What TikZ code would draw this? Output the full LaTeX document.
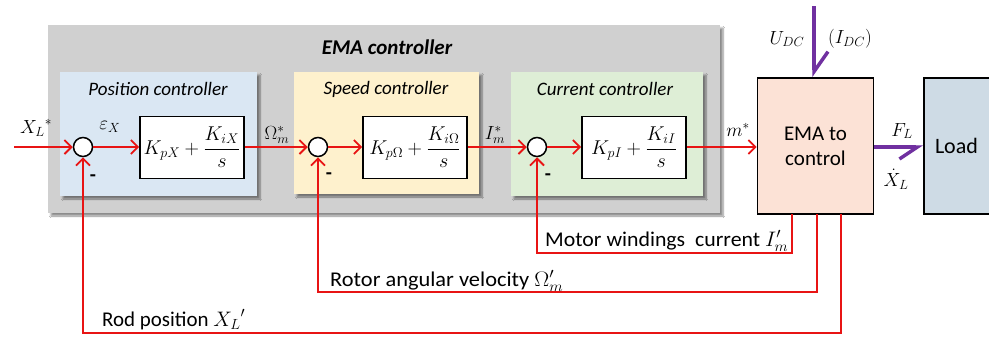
\documentclass[tikz,border=0pt]{standalone}
\usepackage{fix-cm}
\usepackage{amsmath}
\usepackage{graphicx}
\usepackage{fontspec}
\setmainfont{Carlito}
\usetikzlibrary{arrows.meta,shadows.blur,calc}
\definecolor{emagray}{RGB}{208,208,208}
\definecolor{posblue}{RGB}{218,231,243}
\definecolor{spdyel}{RGB}{254,241,205}
\definecolor{curgrn}{RGB}{222,238,214}
\definecolor{emasal}{RGB}{252,226,214}
\definecolor{loadblu}{RGB}{206,219,229}
\definecolor{sigred}{RGB}{232,20,20}
\definecolor{pwpur}{RGB}{112,48,160}
\tikzset{
  grp/.style={anchor=north west, inner sep=0pt, outer sep=0pt,
    blur shadow={shadow xshift=3pt, shadow yshift=-3pt, shadow blur steps=6, shadow opacity=45}},
  grptitle/.style={font=\fontsize{19}{21}\selectfont\itshape, anchor=center},
  sumnode/.style={circle, draw=black, line width=1.5pt, fill=white, minimum size=19pt, inner sep=0pt},
  pibox/.style={draw=black, line width=1.6pt, fill=white, minimum width=104pt, minimum height=62pt, inner sep=0pt, font=\fontsize{20}{22}\selectfont},
  sig/.style={draw=sigred, line width=1.8pt, -{Straight Barb[length=7pt,width=14pt,line width=1.8pt]}},
  pw/.style={draw=pwpur, line width=3.5pt},
  mlab/.style={font=\fontsize{19}{21}\selectfont, inner sep=0pt},
  minus/.style={font=\fontsize{20}{22}\selectfont\bfseries, inner sep=0pt},
  blabel/.style={font=\fontsize{21}{23}\selectfont, inner sep=0pt, anchor=base west},
  bigbox/.style={draw=black, line width=1.6pt, inner sep=0pt, font=\fontsize{21}{25}\selectfont, align=center}
}
\begin{document}
\begin{tikzpicture}[x=1pt,y=-1pt]
\clip (0,0) rectangle (989,338);
\fill[white] (0,0) rectangle (989,338);
% EMA controller group
\node[grp, fill=emagray, minimum width=672pt, minimum height=188pt] (emac) at (48,25) {};
\node[font=\fontsize{21}{23}\selectfont\bfseries\itshape] (emat) at (387,47) {EMA controller};
\node[grp, fill=posblue, minimum width=197pt, minimum height=124pt] (posg) at (60,72) {};
\node[grp, fill=spdyel, minimum width=185pt, minimum height=122pt] (spdg) at (294,72) {};
\node[grp, fill=curgrn, minimum width=192pt, minimum height=124pt] (curg) at (511,72) {};
\node[grptitle] (post) at (158,89) {Position controller};
\node[grptitle] (spdt) at (386,89) {Speed controller};
\node[grptitle] (curt) at (605,89) {Current controller};
% summing junctions
\node[sumnode] (sX) at (83,147) {};
\node[sumnode] (sW) at (318,147) {};
\node[sumnode] (sI) at (537,147) {};
% PI blocks
\node[pibox] (piX) at (192,147.5) {$K_{pX}+\dfrac{K_{iX}}{s}$};
\node[pibox] (piW) at (415,147.5) {$K_{p\Omega}+\dfrac{K_{i\Omega}}{s}$};
\node[pibox] (piI) at (634,147.5) {$K_{pI}+\dfrac{K_{iI}}{s}$};
% EMA to control and load
\node[bigbox, fill=emasal, minimum width=116pt, minimum height=136pt] (plant) at (815.5,146) {EMA to\\control};
\node[bigbox, fill=loadblu, minimum width=80pt, minimum height=136pt, text width=66pt, align=left, font=\fontsize{22}{25}\selectfont] (load) at (964,146) {\hspace*{4pt}Load};
% coordinates
\coordinate (in) at (14,147);
\coordinate (udc) at (814,6);
\coordinate (fI) at (792,214);
\coordinate (fW) at (817,214);
\coordinate (fX) at (841,214);
\coordinate (cI) at (792,253);
\coordinate (cW) at (817,292);
\coordinate (cX) at (841,333);
% forward signals
\draw[sig] (in) -- (sX.west);
\draw[sig] (sX.east) -- (piX.west |- sX.east);
\draw[sig] (piX.east |- sX.east) -- (sW.west);
\draw[sig] (sW.east) -- (piW.west |- sW.east);
\draw[sig] (piW.east |- sW.east) -- (sI.west);
\draw[sig] (sI.east) -- (piI.west |- sI.east);
\draw[sig] (piI.east |- sI.east) -- (plant.west |- sI.east);
% feedback
\draw[sig] (fI) -- (cI) -| (sI.south);
\draw[sig] (fW) -- (cW) -| (sW.south);
\draw[sig] (fX) -- (cX) -| (sX.south);
% power
\draw[pw, -{Straight Barb[length=20pt,width=28pt,left,line width=3.5pt]}] (udc) -- (plant.north -| udc);
\draw[pw, -{Straight Barb[length=18pt,width=24pt,right,line width=3.5pt]}] (plant.east |- sI) -- (load.west |- sI);
% labels
\node[mlab] (lxl) at (36,128) {${X_L}^{*}$};
\node[mlab] (lex) at (110,127) {$\varepsilon_X$};
\node[mlab] (lom) at (277,135) {$\Omega_m^{*}$};
\node[mlab] (lim) at (495,135) {$I_m^{*}$};
\node[mlab] (lmm) at (738,130) {$m^{*}$};
\node[minus] (mX) at (93,178) {-};
\node[minus] (mW) at (329,176) {-};
\node[minus] (mI) at (548,177) {-};
\node[mlab] (ludc) at (787,39) {$U_{DC}$};
\node[mlab] (lidc) at (850,39) {$(I_{DC})$};
\node[mlab] (lfl) at (902,131) {$F_L$};
\node[mlab] (lxd) at (896,179) {$\dot{X}_L$};
\node[blabel] (lI) at (545,246) {\resizebox{243pt}{\height}{Motor windings\ \ current $I_m'$}};
\node[blabel] (lW) at (330,286) {\resizebox{233pt}{\height}{Rotor angular velocity $\Omega_m'$}};
\node[blabel] (lX) at (102,326) {\resizebox{143pt}{\height}{Rod position ${X_L}'$}};
\end{tikzpicture}
\end{document}
